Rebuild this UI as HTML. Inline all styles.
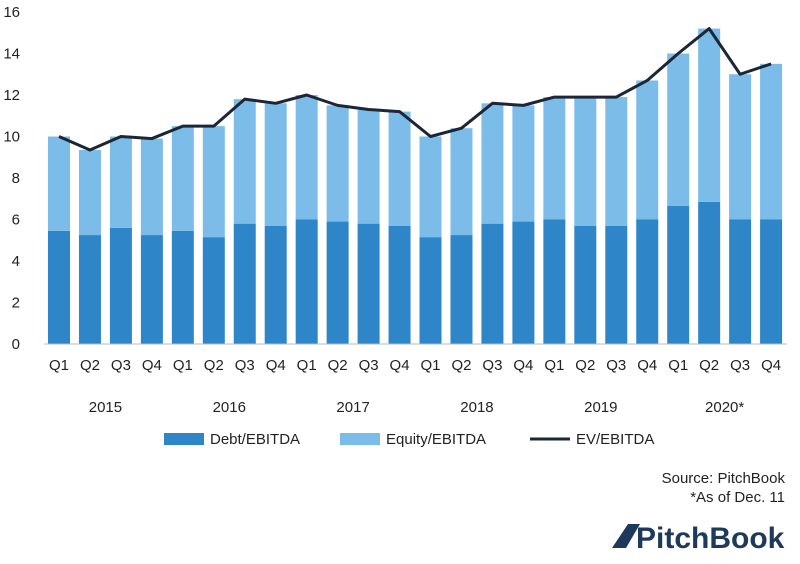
<!DOCTYPE html>
<html><head><meta charset="utf-8"><style>
body{margin:0;background:#fff;font-family:"Liberation Sans",sans-serif;}
svg text{font-family:"Liberation Sans",sans-serif;fill:#222;}
</style></head><body>
<svg width="800" height="559">
<g id="bars"></g><g id="axes"></g>
<g>
<rect x="164" y="433" width="40" height="12" fill="#2E86C8"/>
<text x="210" y="444" font-size="15">Debt/EBITDA</text>
<rect x="340" y="433" width="40" height="12" fill="#7BBDE8"/>
<text x="386" y="444" font-size="15">Equity/EBITDA</text>
<line x1="530" y1="439" x2="570" y2="439" stroke="#1d2636" stroke-width="3"/>
<text x="576" y="444" font-size="15">EV/EBITDA</text>
</g>
<text x="785" y="483" font-size="15" text-anchor="end">Source: PitchBook</text>
<text x="785" y="502" font-size="15" text-anchor="end">*As of Dec. 11</text>
<g>
<path d="M612 548 L628 524 L640 524 L626 548 Z" fill="#1d3a5c"/>
<text x="636" y="548" font-size="30" font-weight="bold" fill="#1d3a5c" style="fill:#1d3a5c">PitchBook</text>
</g>
</svg>
<script>
const categories=["Q1","Q2","Q3","Q4","Q1","Q2","Q3","Q4","Q1","Q2","Q3","Q4","Q1","Q2","Q3","Q4","Q1","Q2","Q3","Q4","Q1","Q2","Q3","Q4"];
const years=["2015","2016","2017","2018","2019","2020*"];
const debt=[5.45,5.25,5.6,5.25,5.45,5.15,5.8,5.7,6.0,5.9,5.8,5.7,5.15,5.25,5.8,5.9,6.0,5.7,5.7,6.0,6.65,6.85,6.0,6.0];
const equity=[4.55,4.1,4.4,4.65,5.05,5.35,6.0,5.9,6.0,5.6,5.5,5.5,4.85,5.15,5.8,5.6,5.9,6.2,6.2,6.7,7.35,8.35,7.0,7.5];
const ev=[10.0,9.35,10.0,9.9,10.5,10.5,11.8,11.6,12.0,11.5,11.3,11.2,10.0,10.4,11.6,11.5,11.9,11.9,11.9,12.7,14.0,15.2,13.0,13.5];
const yTicks=[0,2,4,6,8,10,12,14,16];
const NS="http://www.w3.org/2000/svg";
const y0=344,pxPer=20.75,x0=59,step=30.96,bw=22;
const y=v=>y0-v*pxPer, x=i=>x0+i*step;
function mk(tag,attrs,parent){const e=document.createElementNS(NS,tag);for(const k in attrs)e.setAttribute(k,attrs[k]);parent.appendChild(e);return e;}
const bars=document.getElementById('bars'),axes=document.getElementById('axes');
categories.forEach((c,i)=>{
 const d=mk('rect',{x:x(i)-bw/2,y:y(debt[i]),width:bw,height:debt[i]*pxPer,fill:'#2E86C8'},bars);
 
 
 const e=mk('rect',{x:x(i)-bw/2,y:y(debt[i]+equity[i]),width:bw,height:equity[i]*pxPer,fill:'#7BBDE8'},bars);
 
 
 const t=mk('text',{x:x(i),y:370,'font-size':15,'text-anchor':'middle'},axes);t.textContent=c;
 
 
});
years.forEach((yr,j)=>{
 const t=mk('text',{x:(x(j*4)+x(j*4+3))/2,y:412,'font-size':15,'text-anchor':'middle'},axes);t.textContent=yr;
 
 
});
yTicks.forEach(v=>{
 const t=mk('text',{x:20,y:y(v)+5,'font-size':15,'text-anchor':'end'},axes);t.textContent=v;
 
 
});
const base=mk('line',{x1:44,x2:787,y1:y0,y2:y0,stroke:'#bbb','stroke-width':1},axes);


const pl=mk('polyline',{points:ev.map((v,i)=>x(i)+','+y(v)).join(' '),fill:'none',stroke:'#1d2636','stroke-width':3,'stroke-linejoin':'round'},bars);


</script>
</body></html>
